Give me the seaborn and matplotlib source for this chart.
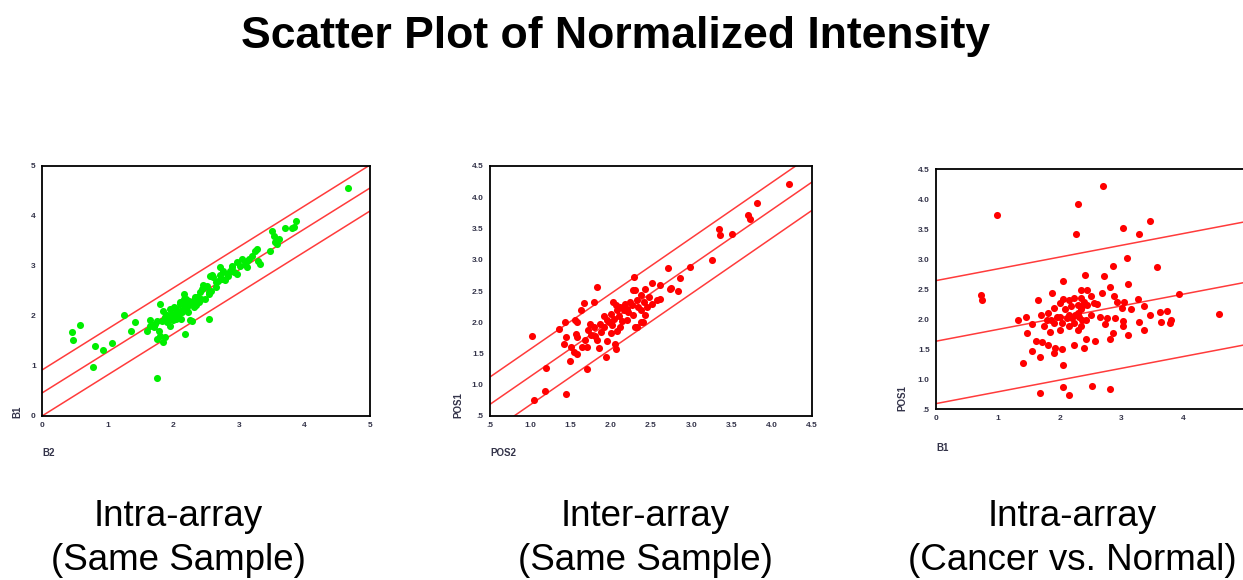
import matplotlib
matplotlib.use("Agg")
import matplotlib.pyplot as plt
import seaborn as sns

# ---------------- data ----------------
title = "Scatter Plot of Normalized Intensity"
subtitles = ["Intra-array\n(Same Sample)", "Inter-array\n(Same Sample)", "Intra-array\n(Cancer vs. Normal)"]
xlabels = ["B2", "POS2", "B1"]
ylabels = ["B1", "POS1", "POS1"]

p1_x = [4.67, 3.87, 3.81, 3.70, 3.61, 3.51, 3.53, 3.55, 3.58, 3.47, 3.33, 3.30, 3.25, 3.27, 3.12,
        3.10, 3.02, 2.97, 2.89, 2.87, 2.92, 2.82, 2.72, 2.74, 2.66, 2.61, 2.56, 2.54, 2.55, 2.47,
        2.41, 2.36, 2.31, 2.26, 2.16, 2.17, 2.11, 2.21, 2.01, 2.06, 1.98, 1.93, 1.80, 1.85, 1.88,
        1.83, 1.75, 1.73, 1.65, 1.60, 1.78, 1.80, 1.85, 1.76, 1.95, 2.18, 2.28, 1.76, 1.25, 1.42,
        1.36, 1.06, 0.93, 0.81, 0.78, 0.58, 0.46, 0.47,
        3.84, 3.15, 2.97, 2.71, 2.59, 2.66, 2.46, 2.54, 2.33, 2.18, 2.10, 2.05, 1.90, 2.00, 2.26,
        1.65, 1.70, 1.87, 2.13, 2.31, 2.39, 2.49, 2.79, 2.89, 3.12,
        2.02, 2.08, 2.14, 2.22, 2.24, 2.35, 2.42, 2.44, 2.52, 2.58, 2.68, 2.76, 2.84, 3.05, 3.20,
        1.95, 2.04, 1.90, 2.12, 2.20]
p1_y = [4.56, 3.91, 3.77, 3.77, 3.55, 3.71, 3.61, 3.48, 3.45, 3.30, 3.05, 3.11, 3.31, 3.35, 3.11,
        3.05, 3.01, 3.08, 3.01, 2.91, 2.88, 2.85, 2.98, 2.75, 2.68, 2.78, 2.81, 2.45, 1.95, 2.58,
        2.48, 2.38, 2.31, 2.25, 2.45, 2.35, 2.28, 2.18, 2.18, 2.11, 2.05, 1.98, 2.25, 2.11, 1.98,
        1.91, 1.91, 1.85, 1.81, 1.71, 1.71, 1.61, 1.48, 1.55, 1.81, 1.65, 1.91, 0.76, 2.03, 1.88,
        1.70, 1.47, 1.33, 1.40, 0.98, 1.83, 1.69, 1.53,
        3.79, 3.15, 2.85, 2.82, 2.82, 2.59, 2.62, 2.49, 2.39, 2.22, 2.25, 2.15, 2.02, 1.92, 1.92,
        1.92, 1.79, 1.59, 2.09, 2.19, 2.29, 2.35, 2.72, 2.99, 2.99,
        2.05, 2.00, 2.12, 2.08, 2.30, 2.22, 2.35, 2.55, 2.60, 2.50, 2.70, 2.90, 2.80, 3.15, 3.20,
        2.15, 1.95, 1.88, 1.95, 2.35]

p2_x = [4.21, 3.82, 3.71, 3.73, 3.51, 3.35, 3.36, 3.26, 2.99, 2.86, 2.71, 2.75, 2.83, 2.61, 2.61,
        2.51, 2.29, 2.28, 1.83, 1.79, 1.67, 1.63, 1.43, 1.36, 1.45, 1.42, 1.58, 1.58, 1.51, 1.54,
        1.58, 1.49, 1.64, 1.02, 1.20, 1.18, 1.05, 1.45, 1.71, 1.94, 2.06, 2.43, 2.32, 2.37,
        2.74, 2.30, 2.42, 2.38, 2.47, 2.32, 2.24, 2.18, 2.12, 2.20, 2.08, 2.00, 2.04, 1.95, 1.87,
        1.79, 1.91, 1.72, 1.76, 1.83, 1.68, 2.12, 2.20, 2.28, 2.37, 2.45, 2.41, 2.51, 2.57, 2.00,
        2.08, 1.95, 1.85, 2.03, 2.16, 2.34, 2.30, 2.40, 1.74, 2.05, 1.57, 1.55, 1.71,
        1.98, 2.02, 2.10, 2.14, 2.22, 2.26, 1.88, 1.80, 1.92, 2.06]
p2_y = [4.21, 3.91, 3.72, 3.65, 3.41, 3.50, 3.40, 3.00, 2.89, 2.71, 2.87, 2.55, 2.50, 2.59, 2.38,
        2.63, 2.73, 2.51, 2.57, 2.33, 2.31, 2.19, 2.00, 1.89, 1.77, 1.66, 2.00, 1.77, 1.60, 1.52,
        1.49, 1.38, 1.60, 1.78, 1.27, 0.90, 0.76, 0.86, 1.25, 1.45, 1.58, 2.11, 1.92, 2.00,
        2.54, 2.52, 2.54, 2.44, 2.41, 2.35, 2.33, 2.30, 2.25, 2.22, 2.20, 2.14, 2.06, 2.04, 1.98,
        1.93, 1.93, 1.88, 1.80, 1.72, 1.72, 1.93, 2.04, 2.12, 2.20, 2.25, 2.33, 2.30, 2.35, 1.83,
        1.86, 1.70, 1.59, 2.33, 2.20, 2.25, 1.93, 2.01, 1.98, 1.65, 1.81, 2.03, 1.60,
        2.00, 1.95, 2.10, 2.02, 2.16, 2.28, 1.84, 1.78, 2.10, 2.28]

p3_x = [2.70, 2.30, 0.98, 2.26, 3.47, 3.03, 3.29, 3.09, 3.57, 2.86, 0.73, 0.75, 3.93, 4.58, 1.41,
        1.69, 2.05, 2.16, 2.53, 2.81, 2.05, 2.06, 2.41, 2.72, 2.81, 3.10, 3.27, 3.36, 1.88, 1.65,
        1.32, 1.46, 1.56, 1.47, 1.56, 1.69, 1.62, 1.71, 2.06, 1.81, 1.92, 1.91, 2.04, 2.23, 2.40,
        2.42, 2.57, 2.82, 2.86, 3.10, 3.36, 3.28, 3.02, 3.03, 3.46, 3.62, 3.74, 3.64, 3.80, 3.79,
        3.16, 3.01, 3.05, 2.88, 2.93, 2.90, 2.77, 2.74, 2.65, 2.50, 2.61, 2.68, 2.50, 2.44, 2.34,
        2.23, 2.15, 2.01, 1.91, 1.82, 1.80, 1.91, 2.01, 2.09, 2.18, 2.29, 2.34, 2.39, 2.31, 2.23,
        2.15, 2.34, 2.42, 2.29, 2.01, 1.85, 1.74, 1.70, 2.12, 2.25, 2.20, 2.15, 2.36, 2.45, 2.56,
        2.04, 1.96, 1.86, 2.29, 2.34, 2.37]
p3_y = [4.22, 3.92, 3.73, 3.41, 3.64, 3.51, 3.42, 3.01, 2.87, 2.89, 2.40, 2.31, 2.42, 2.08, 1.26,
        0.76, 0.87, 0.73, 0.88, 0.84, 2.34, 2.63, 2.74, 2.71, 2.53, 2.59, 2.34, 2.22, 2.44, 2.32,
        1.99, 2.03, 1.92, 1.76, 1.47, 1.37, 1.64, 1.61, 1.23, 1.57, 1.52, 1.43, 1.50, 1.57, 1.51,
        1.66, 1.64, 1.67, 1.77, 1.73, 1.81, 1.95, 1.88, 1.96, 2.06, 2.12, 2.13, 1.95, 1.98, 1.93,
        2.16, 2.18, 2.28, 2.38, 2.28, 2.02, 2.02, 1.91, 2.04, 2.07, 2.25, 2.43, 2.38, 2.49, 2.49,
        2.35, 2.32, 2.27, 2.18, 2.10, 1.99, 1.93, 2.04, 2.16, 2.21, 2.24, 2.16, 2.29, 2.04, 1.93,
        1.88, 1.88, 1.99, 1.82, 1.82, 1.79, 1.88, 2.07, 2.01, 2.07, 2.02, 2.07, 2.21, 2.24, 2.27,
        1.93, 2.04, 1.98, 2.10, 2.35, 1.99]

# fitted line and prediction bands: common slope, three intercepts (upper, fit, lower)
slopes = [0.82, 0.889, 0.196]
intercepts = [[0.92, 0.46, 0.00], [0.68, 0.2425, -0.21], [2.64, 1.63, 0.59]]

xlims = [(0, 5), (0.5, 4.5), (0, 5)]
ylims = [(0, 5), (0.5, 4.5), (0.5, 4.5)]
xticks = [[0, 1, 2, 3, 4, 5], [0.5, 1.0, 1.5, 2.0, 2.5, 3.0, 3.5, 4.0, 4.5], [0, 1, 2, 3, 4, 5]]
xticklabels = [["0", "1", "2", "3", "4", "5"],
               [".5", "1.0", "1.5", "2.0", "2.5", "3.0", "3.5", "4.0", "4.5"],
               ["0", "1", "2", "3", "4", "5"]]
yticks = [[0, 1, 2, 3, 4, 5], [0.5, 1.0, 1.5, 2.0, 2.5, 3.0, 3.5, 4.0, 4.5],
          [0.5, 1.0, 1.5, 2.0, 2.5, 3.0, 3.5, 4.0, 4.5]]
yticklabels = [["0", "1", "2", "3", "4", "5"],
               [".5", "1.0", "1.5", "2.0", "2.5", "3.0", "3.5", "4.0", "4.5"],
               [".5", "1.0", "1.5", "2.0", "2.5", "3.0", "3.5", "4.0", "4.5"]]

# ---------------- style ----------------
sns.set_theme(style="white")
plt.rcParams["font.family"] = ["Liberation Sans", "DejaVu Sans"]

W, H = 1243, 580
fig = plt.figure(figsize=(W / 100, H / 100), dpi=100)
fig.patch.set_facecolor("white")

# axes boxes in pixels: left, top, right, bottom
boxes = [(42, 166, 370, 416), (490, 166, 812, 416), (936, 169, 1245, 409)]
point_colors = ["#00ee00", "#ff0000", "#ff0000"]
line_color = "#ff3b3b"
label_color = "#34344a"
sub_centers = [178, 645, 1072]
xlabel_y = [-0.128, -0.128, -0.142]
ylabel_x = [-0.061, -0.084, -0.094]

datasets = [(p1_x, p1_y), (p2_x, p2_y), (p3_x, p3_y)]

for i, (xs, ys) in enumerate(datasets):
    l, t, r, b = boxes[i]
    ax = fig.add_axes([l / W, 1 - b / H, (r - l) / W, (b - t) / H])
    ax.set_facecolor("white")
    ax.set_xlim(*xlims[i])
    ax.set_ylim(*ylims[i])
    for icpt in intercepts[i]:
        ax.axline((0, icpt), slope=slopes[i], color=line_color, lw=1.1, zorder=1)
    sns.scatterplot(x=xs, y=ys, ax=ax, color=point_colors[i], s=26, linewidth=0,
                    legend=False, zorder=2)
    ax.set_xticks(xticks[i])
    ax.set_xticklabels(xticklabels[i])
    ax.set_yticks(yticks[i])
    ax.set_yticklabels(yticklabels[i])
    ax.tick_params(direction="out", length=2.5, width=1.5, color="black",
                   labelsize=6, labelcolor=label_color, pad=2)
    for lab in ax.get_xticklabels() + ax.get_yticklabels():
        lab.set_fontweight("bold")
    for sp in ax.spines.values():
        sp.set_color("black")
        sp.set_linewidth(1.3)
    ax.set_xlabel(xlabels[i], loc="left", fontsize=7, fontweight="bold", color=label_color)
    ax.xaxis.set_label_coords(0.0, xlabel_y[i])
    ax.set_ylabel(ylabels[i], loc="bottom", fontsize=7, fontweight="bold", color=label_color)
    ax.yaxis.set_label_coords(ylabel_x[i], -0.01)
    ax.grid(False)

    # subtitle under each panel
    line1, line2 = subtitles[i].split("\n")
    fig.text(sub_centers[i] / W, 1 - 526 / H, line1, ha="center", va="baseline",
             fontsize=26.5, color="black")
    fig.text(sub_centers[i] / W, 1 - 570 / H, line2, ha="center", va="baseline",
             fontsize=26.5, color="black")

fig.text(616 / W, 1 - 48 / H, title, ha="center", va="baseline", fontsize=32,
         fontweight="bold", color="black")

fig.savefig("out.png", dpi=100, facecolor="white")
